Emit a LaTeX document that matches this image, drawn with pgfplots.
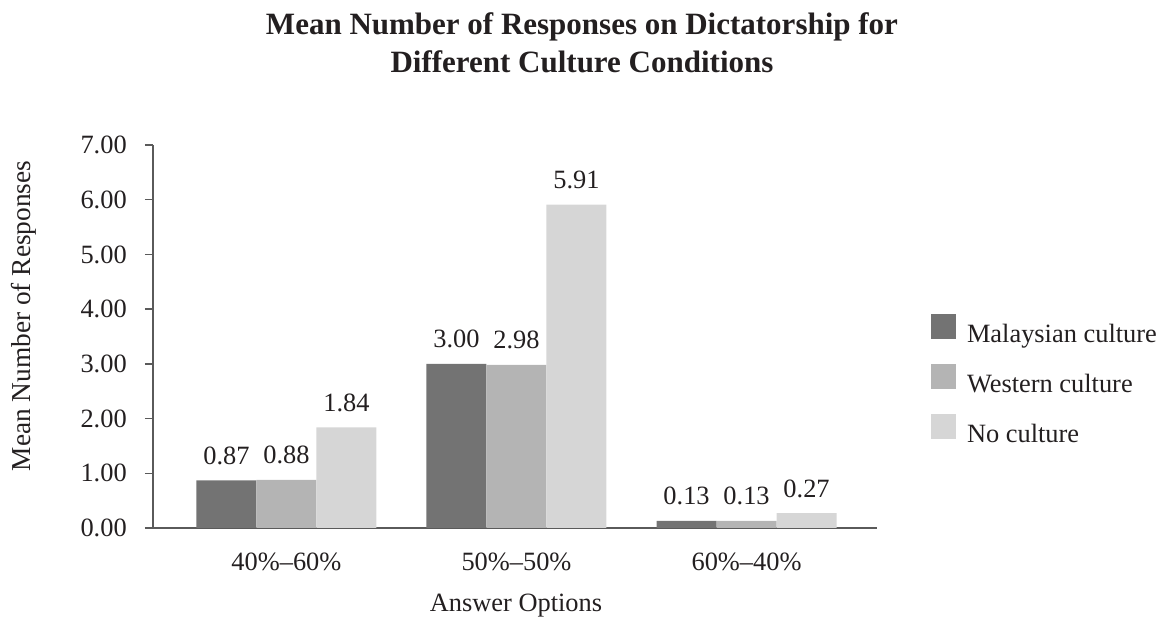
\documentclass[border=0pt]{standalone}
\usepackage{pgfplots}
\pgfplotsset{compat=1.18}
\usepackage{fontspec}
\setmainfont{Liberation Serif}
\definecolor{cA}{HTML}{737373}
\definecolor{cB}{HTML}{B4B4B4}
\definecolor{cC}{HTML}{D6D6D6}
\definecolor{axc}{HTML}{5A5A5A}
\definecolor{txt}{HTML}{231F20}
\newcommand{\fs}{\fontsize{19.8pt}{23pt}\selectfont}
\begin{document}
\begin{tikzpicture}
\path[use as bounding box] (-114.75pt,-69.75pt) rectangle (758.25pt,396pt);
\begin{axis}[
  scale only axis, width=543pt, height=287.25pt,
  at={(0pt,0pt)}, anchor=south west,
  ybar=0pt, bar width=45pt,
  xmin=-0.580, xmax=2.567, ymin=0, ymax=7,
  xtick={0,1,2}, xticklabels={40\%–60\%,50\%–50\%,60\%–40\%},
  major x tick style={draw=none},
  ytick={0,1,2,3,4,5,6,7},
  /pgf/number format/assume math mode=true,
  yticklabel={\pgfmathprintnumber[fixed,fixed zerofill,precision=2,assume math mode=true]{\tick}},
  axis x line*=bottom, axis y line*=left,
  axis line style={axc, line width=1.1pt},
  y tick style={axc, line width=1.1pt},
  tick align=outside, major tick length=6pt,
  ticklabel style={font=\fs, text=txt},
  xticklabel style={inner sep=0pt, anchor=base, yshift=-25.5pt},
  yticklabel style={inner sep=0pt, anchor=east, xshift=-13.5pt},
  nodes near coords={\pgfmathprintnumber[fixed,fixed zerofill,precision=2,assume math mode=true]{\pgfplotspointmeta}},
  every node near coord/.append style={font=\fs, text=txt, anchor=base, inner sep=0pt, yshift=12pt},
  legend style={at={(axis description cs:1.07459,0.55875)}, anchor=north west,
    draw=none, fill=none, inner sep=0pt, outer sep=0pt, font=\fs,
    row sep=11.65pt, column sep=8.25pt,
    nodes={inner sep=0pt, text height=15.75pt, text depth=4.5pt, text=txt}},
  legend cell align=left,
  legend image code/.code={\fill[#1] (0pt,-3pt) rectangle (18.75pt,15.75pt);},
  clip=false,
]
\addplot[fill=cA, draw=none] coordinates {(0,0.87) (1,3.00) (2,0.13)};
\addplot[fill=cB, draw=none] coordinates {(0,0.88) (1,2.98) (2,0.13)};
\addplot[fill=cC, draw=none] coordinates {(0,1.84) (1,5.91) (2,0.27)};
\legend{Malaysian culture, Western culture, No culture}
\end{axis}
\node[font=\fontsize{20.5pt}{24pt}\selectfont, text=txt, rotate=90] at (-96.75pt,159pt) {Mean Number of Responses};
\node[font=\fs, text=txt, anchor=base] at (272.25pt,-62.25pt) {Answer Options};
\node[font=\fontsize{23.25pt}{28pt}\selectfont\bfseries, text=txt, anchor=base] at (321.75pt,369.75pt) {Mean Number of Responses on Dictatorship for};
\node[font=\fontsize{23.25pt}{28pt}\selectfont\bfseries, text=txt, anchor=base] at (321.75pt,341.25pt) {Different Culture Conditions};
\end{tikzpicture}
\end{document}
